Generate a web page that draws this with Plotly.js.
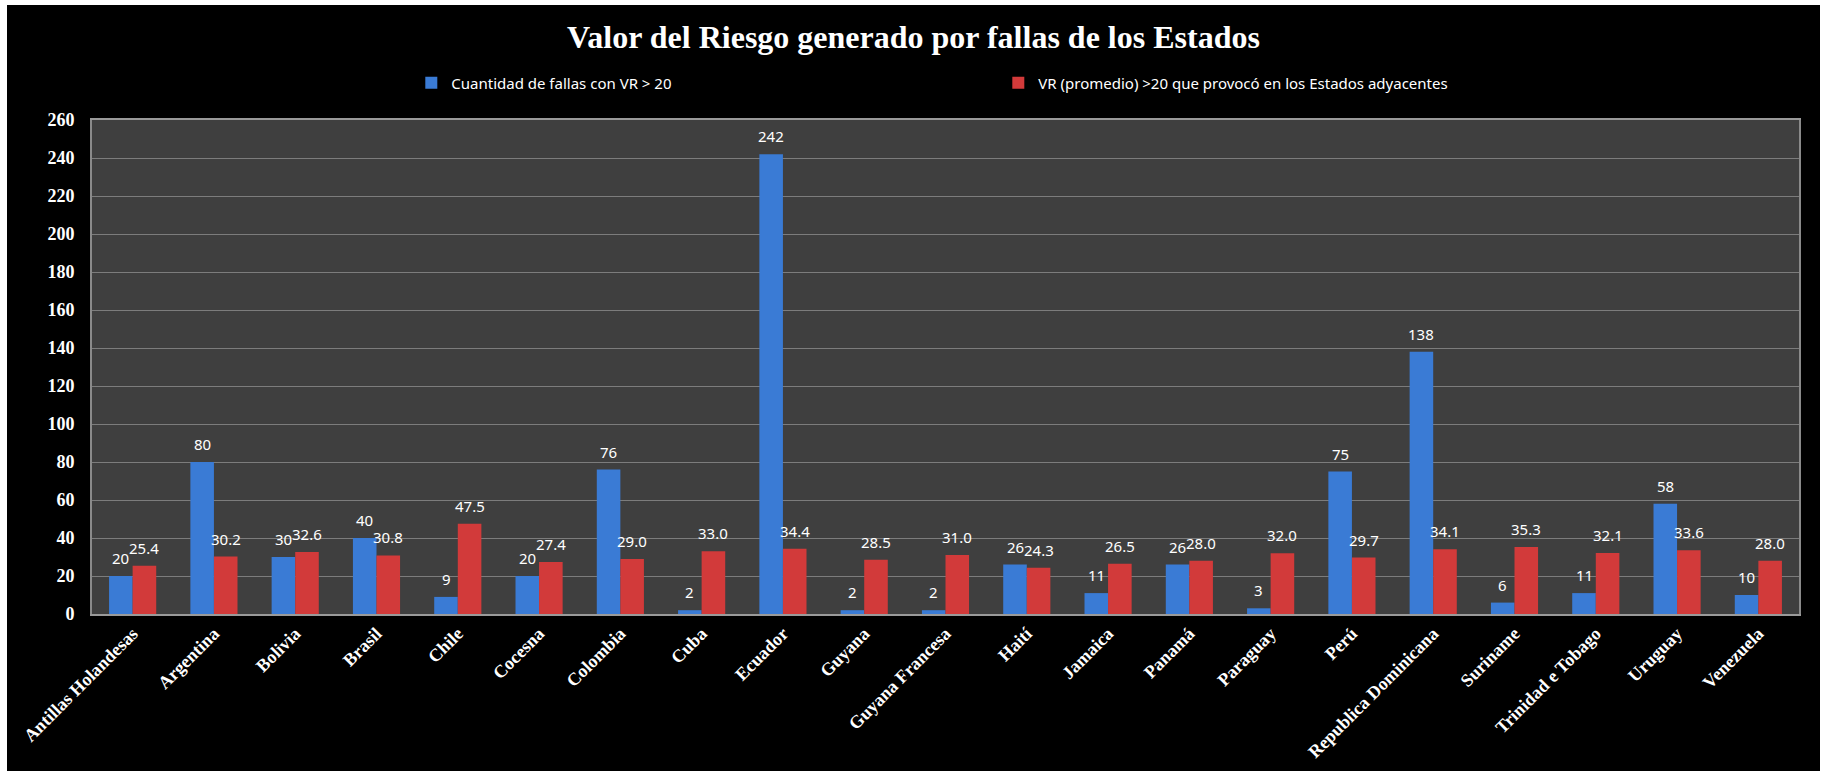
<!DOCTYPE html>
<html>
<head>
<meta charset="utf-8">
<script src="https://cdn.plot.ly/plotly-3.0.1.min.js"></script>
<style>
  html, body { margin:0; padding:0; background:#ffffff; width:1826px; height:771px; overflow:hidden; }
  #chart { position:absolute; left:7px; top:5px; width:1813px; height:766px; }
</style>
</head>
<body>
<div id="chart"></div>
<script>
const categories = ["Antillas Holandesas","Argentina","Bolivia","Brasil","Chile","Cocesna","Colombia","Cuba","Ecuador","Guyana","Guyana Francesa","Haití","Jamaica","Panamá","Paraguay","Perú","Republica Dominicana","Suriname","Trinidad e Tobago","Uruguay","Venezuela"];
const cantidadFallas = [20,80,30,40,9,20,76,2,242,2,2,26,11,26,3,75,138,6,11,58,10];
const vrPromedio = [25.4,30.2,32.6,30.8,47.5,27.4,29.0,33.0,34.4,28.5,31.0,24.3,26.5,28.0,32.0,29.7,34.1,35.3,32.1,33.6,28.0];
const seriesNames = ["Cuantidad de fallas con VR > 20","VR (promedio) >20 que provocó en los Estados adyacentes"];
const chartTitle = "Valor del Riesgo generado por fallas de los Estados";

const W = 1813, H = 766;
const margin = {l:85, r:21, t:115, b:157};
const bargap = 0.42;
const plotW = W - margin.l - margin.r;
const catW = plotW / categories.length;
const barW = catW * (1 - bargap) / 2;

const traces = [
  {type:'bar', name:seriesNames[0], x:categories, y:cantidadFallas,
   marker:{color:'#3a7bd5', line:{width:0}}, hoverinfo:'x+y'},
  {type:'bar', name:seriesNames[1], x:categories, y:vrPromedio,
   marker:{color:'#d23a3a', line:{width:0}}, hoverinfo:'x+y'}
];

const labelFont = {family:'Noto Sans', size:15, color:'#ffffff'};
const annotations = [];
categories.forEach((c, i) => {
  annotations.push({x:c, y:cantidadFallas[i], xref:'x', yref:'y', text:String(cantidadFallas[i]),
    showarrow:false, xshift:-barW/2, yshift:18, yanchor:'middle', font:labelFont});
  annotations.push({x:c, y:vrPromedio[i], xref:'x', yref:'y', text:vrPromedio[i].toFixed(1),
    showarrow:false, xshift:barW/2, yshift:18, yanchor:'middle', font:labelFont});
});

const layout = {
  width:W, height:H, margin:margin,
  paper_bgcolor:'#000000', plot_bgcolor:'#3f3f3f',
  barmode:'group', bargap:bargap, bargroupgap:0,
  title:{text:chartTitle, x:0.5, xref:'container', y:1-32/H, yref:'container', yanchor:'middle', xanchor:'center',
    font:{family:'Liberation Serif', size:32, color:'#ffffff', weight:'bold'}},
  showlegend:true,
  legend:{orientation:'h', x:0.223, xref:'container', xanchor:'left', y:1-78/H, yref:'container', yanchor:'middle',
    entrywidth:542, entrywidthmode:'pixels', font:{family:'Noto Sans', size:15, color:'#ffffff'},
    bgcolor:'rgba(0,0,0,0)', traceorder:'normal', itemclick:false},
  xaxis:{type:'category', tickangle:-45, tickfont:{family:'Liberation Serif', size:18, color:'#ffffff', weight:'bold'},
    showline:true, linecolor:'#9a9a9a', linewidth:2, mirror:true, showgrid:false, ticks:'', automargin:false},
  yaxis:{range:[0,260], dtick:20, tick0:0, showgrid:true, gridcolor:'#7c7c7c', gridwidth:1,
    tickfont:{family:'Liberation Serif', size:18, color:'#ffffff', weight:'bold'},
    showline:true, linecolor:'#8a8a8a', linewidth:2, mirror:true, ticks:'', ticklabelstandoff:12,
    zeroline:false, automargin:false},
  annotations:annotations
};

Plotly.newPlot('chart', traces, layout, {displayModeBar:false, staticPlot:false});
</script>
</body>
</html>
